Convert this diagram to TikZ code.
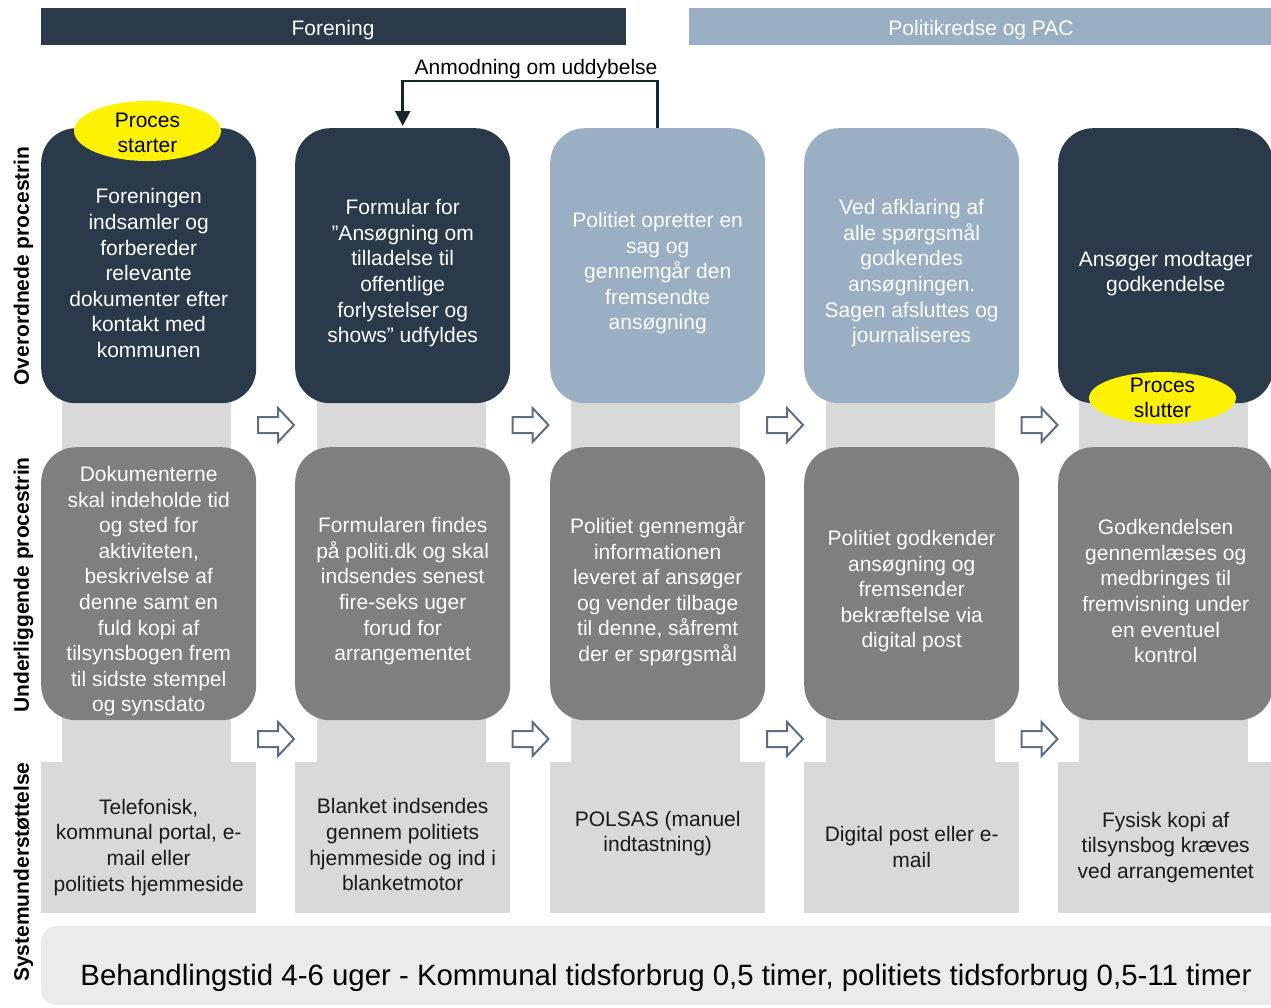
\documentclass[tikz,border=0pt]{standalone}
\usepackage{fontspec}
\setmainfont{Liberation Sans}
\usetikzlibrary{arrows.meta,calc,shapes.geometric}
\definecolor{navy}{HTML}{2B3A4A}
\definecolor{lblue}{HTML}{9AAFC4}
\definecolor{mgray}{HTML}{7F7F7F}
\definecolor{lgray}{HTML}{D9D9D9}
\definecolor{barfill}{HTML}{EBEBEB}
\definecolor{arrcol}{HTML}{5B6F80}
\definecolor{conncol}{HTML}{14272B}
\definecolor{txtdark}{HTML}{1A1A1A}
\begin{document}
\begin{tikzpicture}[x=1pt,y=-1pt,
  topbox/.style={rectangle, rounded corners=35pt, minimum width=215pt, minimum height=275pt, inner sep=0pt, anchor=north west},
  midbox/.style={rectangle, rounded corners=35pt, minimum width=215pt, minimum height=273pt, inner sep=0pt, anchor=north west, fill=mgray},
  botbox/.style={rectangle, minimum width=215pt, minimum height=151pt, inner sep=0pt, anchor=north west, fill=lgray},
  band/.style={fill=lgray},
  txt/.style={align=center, inner sep=0pt, font=\fontsize{21}{25.6}\selectfont},
  wtxt/.style={txt, text=white},
  dtxt/.style={txt, text=txtdark},
  hdr/.style={rectangle, inner sep=0pt, anchor=north west, minimum height=37pt, text=white, font=\fontsize{21}{25.6}\selectfont},
  side/.style={rotate=90, inner sep=0pt, font=\fontsize{21}{25.6}\selectfont\bfseries, text=black},
  yel/.style={ellipse, fill=yellow, inner sep=0pt},
  harrow/.pic={\draw[arrcol, line width=2pt, fill=white, line join=miter]
     (-18,-8) -- (2,-8) -- (2,-17) -- (18,0) -- (2,17) -- (2,8) -- (-18,8) -- cycle;},
  conn/.style={draw=conncol, line width=2.5pt, -{Triangle[width=15pt,length=15pt]}}
]
\useasboundingbox (0,0) rectangle (1271,1007);

% headers
\node[hdr, fill=navy, minimum width=585pt] (h1) at (41,8) {};
\node[text=white, font=\fontsize{21}{25.6}\selectfont] (h1t) at (333,30) {Forening};
\node[hdr, fill=lblue, minimum width=585pt] (h2) at (689,8) {};
\node[text=white, font=\fontsize{21}{25.6}\selectfont] (h2t) at (981,30) {Politikredse og PAC};

% side labels
\node[side] (s1) at (23.5,266) {Overordnede procestrin};
\node[side] (s2) at (23.5,585) {Underliggende procestrin};
\node[side] (s3) at (23.5,872) {Systemunderstøttelse};

% bands
\foreach \x in {41,295.5,550,804.5,1058}{
  \fill[band] (\x+21,390) rectangle (\x+190,460);
  \fill[band] (\x+21,705) rectangle (\x+190,775);
}

% top boxes
\node[topbox, fill=navy]  (t1) at (41,128) {};
\node[topbox, fill=navy]  (t2) at (295,128) {};
\node[topbox, fill=lblue] (t3) at (550,128) {};
\node[topbox, fill=lblue] (t4) at (804,128) {};
\node[topbox, fill=navy]  (t5) at (1058,128) {};

% middle boxes
\node[midbox] (m1) at (41,447) {};
\node[midbox] (m2) at (295,447) {};
\node[midbox] (m3) at (550,447) {};
\node[midbox] (m4) at (804,447) {};
\node[midbox] (m5) at (1058,447) {};

% bottom boxes
\node[botbox] (b1) at (41,762) {};
\node[botbox] (b2) at (295,762) {};
\node[botbox] (b3) at (550,762) {};
\node[botbox] (b4) at (804,762) {};
\node[botbox] (b5) at (1058,762) {};

% top texts
\node[wtxt] (t1t) at ([yshift=-7.5pt]t1.center) {Foreningen\\indsamler og\\forbereder\\relevante\\dokumenter efter\\kontakt med\\kommunen};
\node[wtxt] (t2t) at ([yshift=-7.5pt]t2.center) {Formular for\\”Ansøgning om\\tilladelse til\\offentlige\\forlystelser og\\shows” udfyldes};
\node[wtxt] (t3t) at ([yshift=-7.5pt]t3.center) {Politiet opretter en\\sag og\\gennemgår den\\fremsendte\\ansøgning};
\node[wtxt] (t4t) at ([yshift=-7.5pt]t4.center) {Ved afklaring af\\alle spørgsmål\\godkendes\\ansøgningen.\\Sagen afsluttes og\\journaliseres};
\node[wtxt] (t5t) at ([yshift=-8pt]t5.center) {Ansøger modtager\\godkendelse};

% middle texts
\node[wtxt] (m1t) at ([yshift=-7.5pt]m1.center) {Dokumenterne\\skal indeholde tid\\og sted for\\aktiviteten,\\beskrivelse af\\denne samt en\\fuld kopi af\\tilsynsbogen frem\\til sidste stempel\\og synsdato};
\node[wtxt] (m2t) at ([yshift=-7.5pt]m2.center) {Formularen findes\\på politi.dk og skal\\indsendes senest\\fire-seks uger\\forud for\\arrangementet};
\node[wtxt] (m3t) at ([yshift=-7.5pt]m3.center) {Politiet gennemgår\\informationen\\leveret af ansøger\\og vender tilbage\\til denne, såfremt\\der er spørgsmål};
\node[wtxt] (m4t) at ([yshift=-7.5pt]m4.center) {Politiet godkender\\ansøgning og\\fremsender\\bekræftelse via\\digital post};
\node[wtxt] (m5t) at ([yshift=-7.5pt]m5.center) {Godkendelsen\\gennemlæses og\\medbringes til\\fremvisning under\\en eventuel\\kontrol};

% bottom texts
\node[dtxt] (b1t) at ([yshift=-9.5pt]b1.center) {Telefonisk,\\kommunal portal, e-\\mail eller\\politiets hjemmeside};
\node[dtxt] (b2t) at ([yshift=-7pt]b2.center) {Blanket indsendes\\gennem politiets\\hjemmeside og ind i\\blanketmotor};
\node[dtxt] (b3t) at ([yshift=4pt]b3.center) {POLSAS (manuel\\indtastning)};
\node[dtxt] (b4t) at ([yshift=-9.5pt]b4.center) {Digital post eller e-\\mail};
\node[dtxt] (b5t) at ([yshift=-9.5pt]b5.center) {Fysisk kopi af\\tilsynsbog kræves\\ved arrangementet};

% ellipses
\node[yel, minimum width=147pt, minimum height=60pt] (e1) at (147.5,131) {};
\node[txt, text=black] (e1t) at ([yshift=-2pt]e1.center) {Proces\\starter};
\node[yel, minimum width=147pt, minimum height=52pt] (e2) at (1162.5,398) {};
\node[txt, text=black] (e2t) at (e2.center) {Proces\\slutter};

% hollow arrows
\foreach \x in {276,530.5,785,1039.5}{
  \pic at (\x,425) {harrow};
  \pic at (\x,739) {harrow};
}

% feedback connector
\draw[conn, line join=miter] (t3.north) -- ++(0,-47) -| ([yshift=2pt]t2.north);
\node[font=\fontsize{21}{25.6}\selectfont, inner sep=0pt] (anm) at (536,69) {Anmodning om uddybelse};

% bottom bar
\node[rectangle, rounded corners=15pt, fill=barfill, minimum width=1250pt, minimum height=79pt, anchor=north west, inner sep=0pt] (bar) at (41,926) {};
\node[font=\fontsize{29.4}{34}\selectfont, text=black, inner sep=0pt] (bart) at (666,978) {Behandlingstid 4-6 uger - Kommunal tidsforbrug 0,5 timer, politiets tidsforbrug 0,5-11 timer};
\end{tikzpicture}
\end{document}
